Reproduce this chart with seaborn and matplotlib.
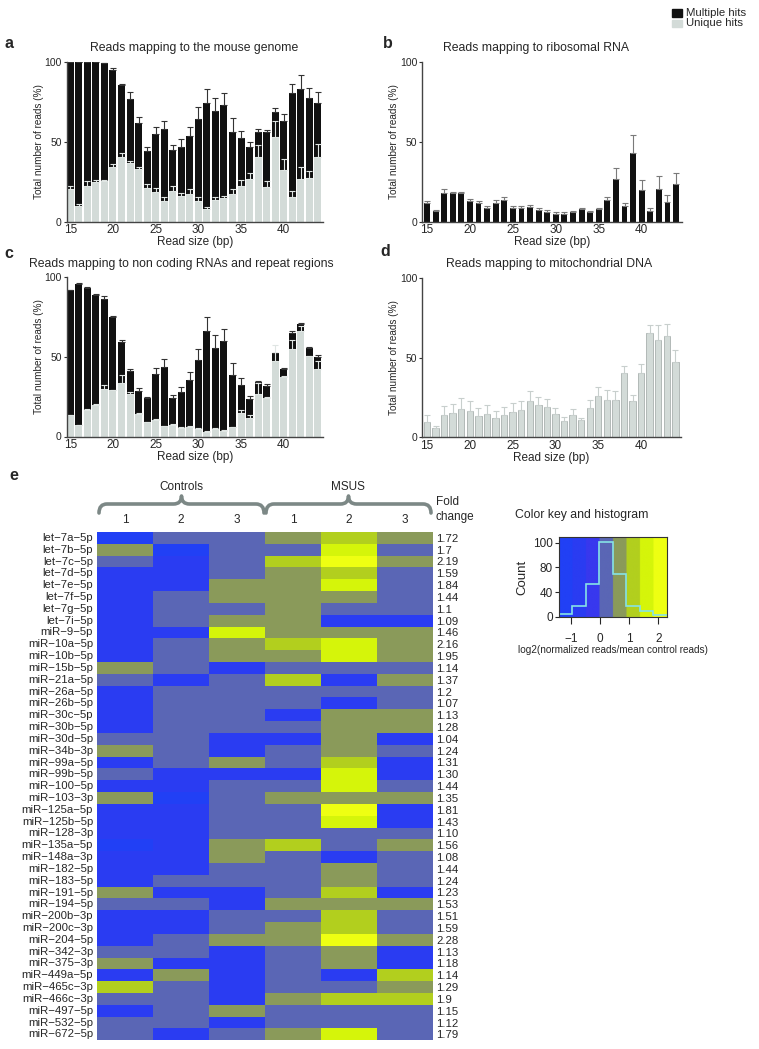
import numpy as np
import pandas as pd
import matplotlib
matplotlib.use('Agg')
import matplotlib.pyplot as plt
from matplotlib.colors import ListedColormap
from matplotlib.patches import Rectangle, PathPatch
from matplotlib.path import Path
import seaborn as sns

sns.set_style('white')
plt.rcParams['font.family'] = ['Liberation Sans', 'DejaVu Sans']

# ---- data: read size panels ----
SIZES = np.arange(15, 45)

a_total = [100, 100, 100, 100, 99.4, 95.2, 85.6, 76.8, 62.1, 44.6, 55.2, 58.2, 45.0, 46.7, 53.8,
           64.2, 74.3, 69.2, 73.2, 56.5, 52.7, 46.7, 56.5, 56.3, 68.6, 63.4, 80.5, 83.3, 77.8, 74.7]
a_total_err = [0.3, 0.3, 0.5, 0.7, 0.4, 1.0, 0.6, 4.4, 3.4, 2.4, 4.0, 4.8, 3.3, 5.0, 5.4,
               7.6, 8.7, 8.2, 7.6, 8.4, 4.4, 3.1, 1.5, 1.4, 2.5, 4.0, 5.9, 8.7, 6.3, 6.7]
a_uniq = [20.3, 10.0, 22.6, 24.9, 25.3, 34.5, 40.4, 36.6, 32.8, 20.9, 18.8, 12.8, 19.2, 16.1, 17.4,
          13.2, 7.7, 13.4, 14.9, 17.4, 22.4, 26.6, 40.8, 22.0, 52.9, 32.4, 15.7, 26.6, 27.4, 40.8]
a_uniq_err = [1.8, 0.8, 3.0, 1.5, 0.8, 1.5, 2.5, 1.5, 1.5, 2.5, 2.5, 2.5, 3.5, 2.0, 3.0,
              2.0, 1.5, 2.0, 1.0, 3.0, 4.0, 4.0, 7.1, 3.7, 10.5, 6.7, 3.3, 7.5, 4.4, 7.7]

b_total = [11.9, 6.5, 18.2, 17.8, 17.8, 13.0, 11.5, 8.4, 11.7, 13.4, 8.8, 8.8, 9.4, 7.5, 6.3,
           5.0, 4.8, 5.9, 8.2, 5.9, 7.9, 13.4, 26.8, 10.0, 43.1, 19.7, 6.5, 20.5, 12.1, 23.4]
b_total_err = [1.1, 0.6, 2.3, 0.8, 0.8, 1.2, 1.5, 1.4, 1.7, 2.3, 1.0, 0.8, 0.9, 1.1, 0.8,
               1.3, 1.3, 1.0, 0.6, 0.6, 0.9, 1.9, 6.9, 1.5, 11.3, 6.5, 1.9, 8.2, 4.6, 7.1]

c_total = [92.0, 96.0, 93.3, 88.9, 86.4, 75.1, 59.5, 40.9, 28.7, 24.3, 39.4, 43.6, 24.3, 28.1, 35.6,
           48.2, 66.0, 55.6, 59.7, 38.4, 32.5, 23.5, 34.2, 31.9, 52.2, 42.6, 65.0, 70.6, 55.6, 49.7]
c_total_err = [0.2, 0.4, 0.3, 0.4, 1.7, 0.6, 1.1, 1.2, 1.5, 0.3, 3.6, 5.0, 1.5, 2.9, 4.7,
               6.9, 8.8, 7.9, 7.6, 7.5, 4.2, 1.9, 0.4, 0.8, 0.5, 0.4, 1.0, 0.4, 0.4, 1.7]
c_uniq = [13.2, 7.1, 16.8, 20.1, 29.8, 28.9, 33.3, 26.6, 14.3, 8.8, 10.5, 6.5, 7.3, 5.5, 6.1,
          4.8, 3.1, 5.0, 3.6, 5.7, 14.7, 11.5, 26.6, 24.3, 47.6, 37.1, 54.7, 66.5, 50.3, 42.3]
c_uniq_err = [0.3, 0.3, 0.4, 0.4, 2.3, 0.4, 5.1, 1.3, 0.5, 0.4, 0.5, 0.3, 0.8, 0.3, 0.8,
              0.3, 0.3, 0.3, 0.3, 0.5, 1.7, 1.9, 7.2, 0.4, 9.6, 0.8, 5.9, 2.7, 0.4, 4.9]

d_uniq = [9.6, 5.7, 14.0, 15.1, 18.0, 16.4, 13.4, 14.5, 12.2, 14.0, 16.1, 17.2, 22.9, 20.1, 19.1,
          14.7, 10.3, 14.0, 10.9, 18.2, 26.0, 23.5, 23.7, 40.3, 22.6, 40.5, 65.6, 61.2, 63.5, 47.4]
d_uniq_err = [4.4, 1.6, 5.5, 5.7, 6.7, 6.5, 5.3, 5.8, 4.6, 5.1, 5.7, 5.7, 6.0, 5.1, 5.2,
              4.0, 2.7, 3.6, 1.5, 5.1, 5.7, 6.1, 5.2, 4.4, 4.0, 5.4, 4.8, 9.2, 7.6, 7.5]

# ---- data: heatmap (log2 normalized reads / mean control reads) ----
MIRNAS = ['let-7a-5p', 'let-7b-5p', 'let-7c-5p', 'let-7d-5p', 'let-7e-5p', 'let-7f-5p',
          'let-7g-5p', 'let-7i-5p', 'miR-9-5p', 'miR-10a-5p', 'miR-10b-5p', 'miR-15b-5p',
          'miR-21a-5p', 'miR-26a-5p', 'miR-26b-5p', 'miR-30c-5p', 'miR-30b-5p', 'miR-30d-5p',
          'miR-34b-3p', 'miR-99a-5p', 'miR-99b-5p', 'miR-100-5p', 'miR-103-3p', 'miR-125a-5p',
          'miR-125b-5p', 'miR-128-3p', 'miR-135a-5p', 'miR-148a-3p', 'miR-182-5p', 'miR-183-5p',
          'miR-191-5p', 'miR-194-5p', 'miR-200b-3p', 'miR-200c-3p', 'miR-204-5p', 'miR-342-3p',
          'miR-375-3p', 'miR-449a-5p', 'miR-465c-3p', 'miR-466c-3p', 'miR-497-5p', 'miR-532-5p',
          'miR-672-5p']
FOLD_CHANGE = ['1.72', '1.7', '2.19', '1.59', '1.84', '1.44', '1.1', '1.09', '1.46', '2.16', '1.95',
               '1.14', '1.37', '1.2', '1.07', '1.13', '1.28', '1.04', '1.24', '1.31', '1.30', '1.44',
               '1.35', '1.81', '1.43', '1.10', '1.56', '1.08', '1.44', '1.24', '1.23', '1.53', '1.51',
               '1.59', '2.28', '1.13', '1.18', '1.14', '1.29', '1.9', '1.15', '1.12', '1.79']
CONTROL_1 = [-1.2, 0.7, 0.2, -0.7, -0.7, -0.7, -0.7, -0.7, -0.7, -0.7, -0.7, 0.7, 0.2, -0.7, -0.7,
             -0.7, -0.7, 0.2, 0.7, -0.7, 0.2, -0.7, 0.7, -0.7, -0.7, -0.7, -1.2, -0.7, -0.7, -0.7,
             0.7, 0.2, -0.7, -0.7, -0.7, 0.2, 0.7, -0.7, 1.1, 0.2, -0.7, 0.2, 0.2]
CONTROL_2 = [0.2, -1.2, -0.7, -0.7, -0.7, 0.2, 0.2, 0.2, -0.7, 0.2, 0.2, 0.2, -0.7, 0.2, 0.2,
             0.2, 0.2, 0.2, 0.2, 0.2, -0.7, -0.7, -1.2, -0.7, -0.7, -0.7, -0.7, -0.7, -0.7, 0.2,
             -0.7, 0.2, -0.7, -0.7, 0.2, 0.2, -0.7, 0.7, 0.2, 0.2, 0.2, 0.2, -0.7]
CONTROL_3 = [0.2, 0.2, 0.2, 0.2, 0.7, 0.7, 0.2, 0.7, 1.6, 0.7, 0.7, -0.7, 0.2, 0.2, 0.2,
             0.2, 0.2, -0.7, -0.7, 0.7, -0.7, 0.2, 0.2, 0.2, 0.2, 0.2, 0.7, 0.7, 0.2, 0.2,
             -0.7, -0.7, 0.2, 0.2, 0.7, -0.7, -0.7, -0.7, -0.7, -0.7, 0.7, -0.7, 0.2]
MSUS_1 = [0.7, 0.2, 1.1, 0.7, 0.7, 0.7, 0.7, 0.7, 0.7, 1.1, 0.7, 0.2, 1.1, 0.2, 0.2,
          -0.7, 0.2, -0.7, 0.2, 0.2, -0.7, 0.2, 0.7, 0.2, 0.2, 0.2, 1.1, 0.2, 0.2, 0.2,
          0.2, 0.7, 0.2, 0.7, 0.7, 0.2, 0.2, 0.2, 0.2, 0.7, 0.2, 0.2, 0.7]
MSUS_2 = [1.1, 1.6, 2.1, 1.1, 1.6, 0.7, 0.2, -0.7, 0.7, 1.6, 1.6, 0.2, -0.7, 0.2, -0.7,
          0.7, 0.7, 0.7, 0.7, 1.1, 1.6, 1.6, 0.7, 2.1, 1.6, 0.2, 0.2, -0.7, 0.7, 0.7,
          1.1, 0.7, 1.1, 1.1, 2.1, 0.7, 0.7, -0.7, 0.2, 1.1, 0.2, 0.2, 1.6]
MSUS_3 = [0.7, 0.2, 0.7, 0.2, 0.2, 0.2, 0.2, -0.7, 0.7, 0.7, 0.7, 0.2, 0.7, 0.2, 0.2,
          0.7, 0.7, -0.7, 0.2, -0.7, -0.7, 0.2, 0.7, -0.7, -0.7, 0.2, 0.7, 0.2, 0.2, 0.2,
          -0.7, 0.7, 0.2, 0.2, 0.7, -0.7, -0.7, 1.1, 0.7, 1.1, 0.2, 0.2, 0.2]
SAMPLE_LABELS = ['1', '2', '3', '1', '2', '3']

# colour key histogram (counts per colour bin, as drawn)
HIST_COUNTS = [4, 17, 53, 121, 70, 18, 9, 3]
KEY_COLORS = ['#2140f5', '#2a3cf2', '#3838ee', '#5a66b5', '#8a9a5a', '#b2cf1e', '#d5f50a', '#eeff12']
VMIN, VMAX = -1.41, 2.29

BLACK = '#111111'
GREY = '#d3dbd8'

W, H = 759, 1049
fig = plt.figure(figsize=(W / 100, H / 100), dpi=100)


def px_rect(l, t, r, b):
    return [l / W, 1 - b / H, (r - l) / W, (b - t) / H]


ov = fig.add_axes([0, 0, 1, 1])
ov.set_xlim(0, W)
ov.set_ylim(H, 0)
ov.axis('off')


def bar_panel(rect, xlim, total=None, total_err=None, uniq=None, uniq_err=None,
              width=0.82, err_col='#333333', grey_edge=None):
    ax = fig.add_axes(px_rect(*rect))
    zeros = np.zeros(len(SIZES))
    if total is not None:
        sns.barplot(x=SIZES, y=total, native_scale=True, color=BLACK, saturation=1,
                    width=width, linewidth=0, errorbar=None, ax=ax)
        ax.errorbar(SIZES, total, yerr=[zeros, total_err], fmt='none', ecolor=err_col,
                    elinewidth=0.8, capsize=2, capthick=0.8)
    if uniq is not None:
        sns.barplot(x=SIZES, y=uniq, native_scale=True, color=GREY, saturation=1,
                    width=width, linewidth=0.6 if grey_edge else 0,
                    edgecolor=grey_edge if grey_edge else GREY, errorbar=None, ax=ax)
        ax.errorbar(SIZES, uniq, yerr=[zeros, uniq_err], fmt='none',
                    ecolor='#c8cfcd' if grey_edge else '#dfe5e3',
                    elinewidth=0.8, capsize=2, capthick=0.8)
    ax.set_xlim(*xlim)
    ax.set_ylim(0, 100)
    ax.set_yticks([0, 50, 100])
    ax.set_xticks([15, 20, 25, 30, 35, 40])
    ax.set_xticklabels(['15', '20', '25', '30', '35', '40'])
    ax.tick_params(axis='y', length=2.5, width=0.8, labelsize=7.5, pad=1, left=True, color='#333333')
    ax.tick_params(axis='x', length=0, labelsize=8.5, pad=2)
    sns.despine(ax=ax)
    for s in ['left', 'bottom']:
        ax.spines[s].set_color('#444444')
        ax.spines[s].set_linewidth(1)
    ax.set_ylabel('Total number of reads (%)', fontsize=7.2, labelpad=0.5)
    ax.set_xlabel('Read size (bp)', fontsize=8.5, labelpad=0)
    return ax


bar_panel((66.7, 62.3, 323, 221.7), (14.58, 44.6), a_total, a_total_err, a_uniq, a_uniq_err)
bar_panel((422.3, 62.3, 681.7, 221.7), (14.45, 44.66), b_total, b_total_err,
          width=0.68, err_col='#7a7a7a')
bar_panel((66.7, 277.3, 323, 436.5), (14.58, 44.6), c_total, c_total_err, c_uniq, c_uniq_err)
bar_panel((422.3, 278.3, 681, 437.3), (14.45, 44.66), uniq=d_uniq, uniq_err=d_uniq_err,
          width=0.75, grey_edge='#a9b1af')

# titles and panel letters
ov.text(194, 48.5, 'Reads mapping to the mouse genome', fontsize=8.8, ha='center', va='center')
ov.text(536, 48.5, 'Reads mapping to ribosomal RNA', fontsize=8.8, ha='center', va='center')
ov.text(181, 263.5, 'Reads mapping to non coding RNAs and repeat regions', fontsize=8.8,
        ha='center', va='center')
ov.text(549, 263.5, 'Reads mapping to mitochondrial DNA', fontsize=8.8, ha='center', va='center')
for letter, (lx, ly) in zip('abcde', [(9, 43), (388, 43), (9, 253), (385, 251), (14, 475)]):
    ov.text(lx, ly, letter, fontsize=11.5, fontweight='bold', ha='center', va='center')

# legend
ov.add_patch(Rectangle((672, 9), 9.5, 7.5, color=BLACK))
ov.add_patch(Rectangle((672, 19.5), 9.5, 7.5, color=GREY))
ov.text(686, 12.8, 'Multiple hits', fontsize=8.2, va='center')
ov.text(686, 23.3, 'Unique hits', fontsize=8.2, va='center')

# ---- heatmap ----
cmap = ListedColormap(KEY_COLORS)
hm = pd.DataFrame({'C1': CONTROL_1, 'C2': CONTROL_2, 'C3': CONTROL_3,
                   'M1': MSUS_1, 'M2': MSUS_2, 'M3': MSUS_3}, index=MIRNAS)
row_labels = [m.replace('-', '\u2212') for m in MIRNAS]  # dashes drawn as in the figure
hax = fig.add_axes(px_rect(97.3, 532, 432.7, 1040.3))
sns.heatmap(hm, cmap=cmap, vmin=VMIN, vmax=VMAX, cbar=False, ax=hax, linewidths=0,
            xticklabels=SAMPLE_LABELS, yticklabels=row_labels)
hax.xaxis.tick_top()
hax.tick_params(axis='both', length=0)
hax.tick_params(axis='x', labelsize=8.5, pad=4)
hax.tick_params(axis='y', labelsize=8.2, pad=3)
plt.setp(hax.get_yticklabels(), rotation=0)
plt.setp(hax.get_xticklabels(), rotation=0)
for i, fc in enumerate(FOLD_CHANGE):
    hax.text(6.06, i + 0.58, fc, fontsize=8.2, ha='left', va='center')

# braces and group labels
def brace(x0, x1, yb=513, yl=504, yt=496, r=8):
    xm = (x0 + x1) / 2
    verts = [(x0, yb), (x0, yl), (x0 + r, yl), (xm - r, yl), (xm, yl), (xm, yt),
             (xm, yl), (xm + r, yl), (x1 - r, yl), (x1, yl), (x1, yb)]
    codes = [Path.MOVETO, Path.CURVE3, Path.CURVE3, Path.LINETO, Path.CURVE3, Path.CURVE3,
             Path.CURVE3, Path.CURVE3, Path.LINETO, Path.CURVE3, Path.CURVE3]
    ov.add_patch(PathPatch(Path(verts, codes), fill=False, edgecolor='#7c8886', lw=2.6,
                           capstyle='round', joinstyle='round'))


brace(99, 264)
brace(266, 431)
ov.text(181, 487, 'Controls', fontsize=8.5, ha='center', va='center')
ov.text(348, 487, 'MSUS', fontsize=8.5, ha='center', va='center')
ov.text(436, 502, 'Fold', fontsize=8.5, ha='left', va='center')
ov.text(436, 517, 'change', fontsize=8.5, ha='left', va='center')

# ---- colour key and histogram ----
kax = fig.add_axes(px_rect(559, 537.3, 666.7, 616.7))
key_top = 128.7
kax.imshow(np.linspace(VMIN, VMAX, 400)[None, :], extent=[VMIN, VMAX, 0, key_top],
           aspect='auto', cmap=cmap, vmin=VMIN, vmax=VMAX, origin='lower')
kax.stairs(HIST_COUNTS, np.linspace(VMIN, VMAX, len(HIST_COUNTS) + 1), baseline=None,
           color='#86e3e6', lw=1.2)
kax.set_xlim(VMIN, VMAX)
kax.set_ylim(0, key_top)
kax.set_yticks([0, 40, 80, 120])
kax.set_yticklabels(['0', '40', '80', '100'])
kax.set_xticks([-1, 0, 1, 2])
kax.tick_params(axis='y', length=3, width=0.8, labelsize=8.5, pad=1.5, left=True)
kax.tick_params(axis='x', length=5, width=0.8, labelsize=8.5, pad=7, bottom=True)
for s in kax.spines.values():
    s.set_color('#333333')
    s.set_linewidth(0.8)
kax.set_ylabel('Count', fontsize=9.5, labelpad=3)
kax.set_xlabel('log2(normalized reads/mean control reads)', fontsize=7.2, labelpad=0)
ov.text(515, 515, 'Color key and histogram', fontsize=8.8, ha='left', va='center')

fig.savefig('out.png', dpi=100)
